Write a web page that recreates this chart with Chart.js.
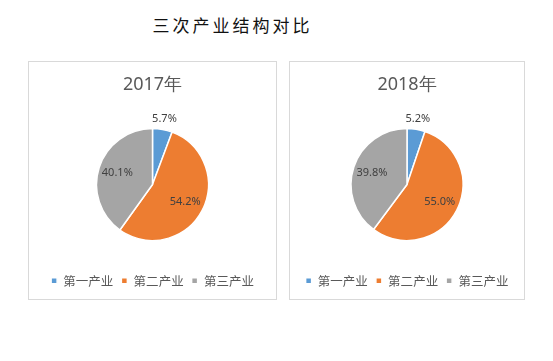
<!DOCTYPE html>
<html>
<head>
<meta charset="utf-8">
<script src="https://cdn.jsdelivr.net/npm/chart.js@4/dist/chart.umd.min.js"></script>
<style>
  body { margin: 0; background: #fff; width: 553px; height: 361px; position: relative; overflow: hidden; }
  #mainTitle { position: absolute; left: 0; width: 465px; top: 12px; text-align: center;
    font-family: "Noto Sans CJK SC", sans-serif; font-size: 17px; letter-spacing: 3px; color: #111; }
  .panel { position: absolute; top: 61px; height: 237px; border: 1px solid #d9d9d9; background: #fff; }
  #p1 { left: 28px; width: 247px; }
  #p2 { left: 289px; width: 234px; }
</style>
</head>
<body>
<div id="mainTitle">三次产业结构对比</div>
<div class="panel" id="p1"><canvas id="c1"></canvas></div>
<div class="panel" id="p2"><canvas id="c2"></canvas></div>
<script>
const categories = ['第一产业', '第二产业', '第三产业'];
const years = ['2017年', '2018年'];
const share2017 = [5.7, 54.2, 40.1];
const share2018 = [5.2, 55.0, 39.8];
const colors = ['#5B9BD5', '#ED7D31', '#A5A5A5'];

// labels like excel: small slice outside, others inside
const pctLabels = {
  id: 'pctLabels',
  afterDatasetsDraw(chart) {
    const ctx = chart.ctx;
    const meta = chart.getDatasetMeta(0);
    const vals = chart.data.datasets[0].data;
    ctx.save();
    ctx.font = '11px "Noto Sans", sans-serif';
    ctx.fillStyle = '#404040';
    ctx.textAlign = 'center';
    ctx.textBaseline = 'middle';
    meta.data.forEach((arc, i) => {
      const p = arc.getProps(['x', 'y', 'startAngle', 'endAngle', 'outerRadius'], true);
      const mid = (p.startAngle + p.endAngle) / 2;
      const r = vals[i] < 10 ? p.outerRadius + 11 : p.outerRadius * 0.66;
      ctx.fillText(vals[i].toFixed(1) + '%', p.x + Math.cos(mid) * r, p.y + Math.sin(mid) * r);
    });
    ctx.restore();
  }
};

function makePie(id, year, values) {
  new Chart(document.getElementById(id), {
    type: 'pie',
    data: {
      labels: categories,
      datasets: [{
        data: values,
        backgroundColor: colors,
        borderColor: '#fff',
        borderWidth: 1.5,
        radius: 56
      }]
    },
    options: {
      responsive: true,
      maintainAspectRatio: false,
      animation: false,
      events: [],
      layout: { padding: { top: 0, bottom: 2 } },
      plugins: {
        title: {
          display: true,
          text: year,
          color: '#595959',
          font: { size: 18, family: '"Noto Sans", sans-serif', weight: 'normal' },
          padding: { top: 12, bottom: 7 }
        },
        legend: {
          position: 'bottom',
          labels: {
            color: '#595959',
            boxWidth: 6,
            boxHeight: 6,
            padding: 8,
            font: { size: 12.5, family: '"Noto Sans CJK SC", sans-serif' }
          }
        },
        tooltip: { enabled: false }
      }
    },
    plugins: [pctLabels]
  });
}

makePie('c1', years[0], share2017);
makePie('c2', years[1], share2018);
</script>
</body>
</html>
